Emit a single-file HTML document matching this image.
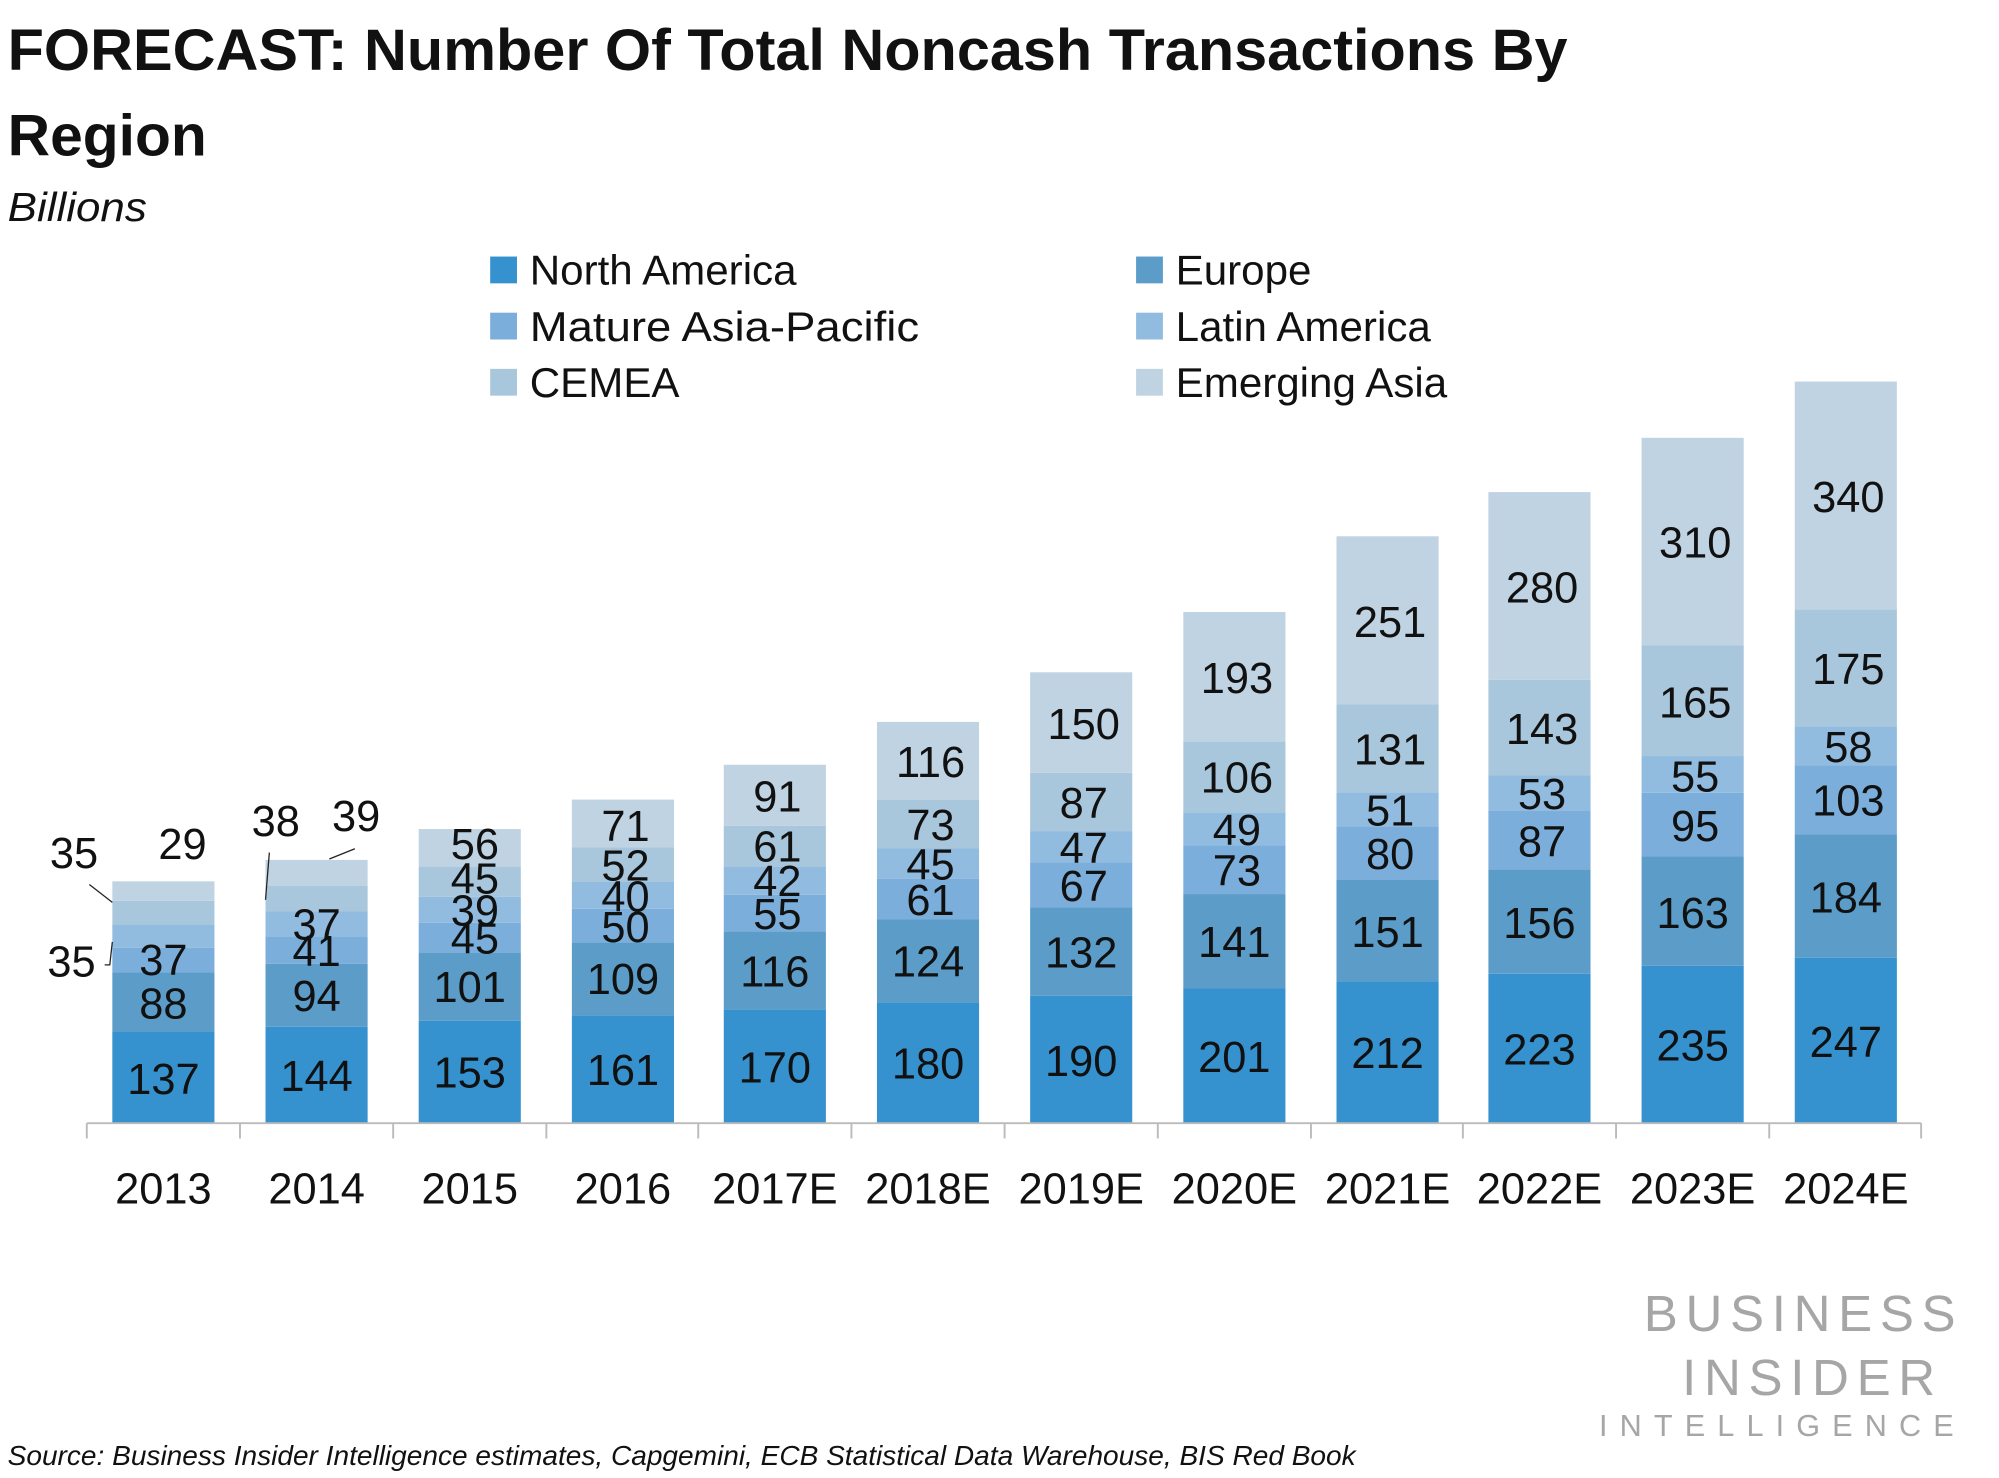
<!DOCTYPE html>
<html><head><meta charset="utf-8"><style>
html,body{margin:0;padding:0;background:#fff;}
svg{display:block;}
text{font-family:"Liberation Sans",sans-serif;}
</style></head><body>
<svg width="1999" height="1478" viewBox="0 0 1566 1158" preserveAspectRatio="none" xmlns="http://www.w3.org/2000/svg">
<text x="6" y="55" font-size="46" font-weight="bold" fill="#111" textLength="1222" lengthAdjust="spacingAndGlyphs">FORECAST: Number Of Total Noncash Transactions By</text>
<text x="6" y="122" font-size="46" font-weight="bold" fill="#111" textLength="156" lengthAdjust="spacingAndGlyphs">Region</text>
<text x="6" y="173" font-size="32" font-style="italic" fill="#111" textLength="109" lengthAdjust="spacingAndGlyphs">Billions</text>
<g font-size="33" fill="#111">
<rect x="384" y="201" width="21" height="21" fill="#3692cf"/><text x="415" y="223">North America</text>
<rect x="384" y="245" width="21" height="21" fill="#7baedb"/><text x="415" y="267" textLength="305" lengthAdjust="spacingAndGlyphs">Mature Asia-Pacific</text>
<rect x="384" y="289" width="21" height="21" fill="#a9c7dc"/><text x="415" y="311">CEMEA</text>
<rect x="890" y="201" width="21" height="21" fill="#5b9dc8"/><text x="921" y="223">Europe</text>
<rect x="890" y="245" width="21" height="21" fill="#91bcdf"/><text x="921" y="267">Latin America</text>
<rect x="890" y="289" width="21" height="21" fill="#c0d3e3"/><text x="921" y="311">Emerging Asia</text>
</g>
<defs>
<style>.a{fill:#3692cf}.b{fill:#5b9dc8}.c{fill:#7baedb}.d{fill:#91bcdf}.e{fill:#a9c7dc}.f{fill:#c0d3e3}</style>
</defs>
<g transform="translate(88,880) scale(1,-0.5249)"><rect class="a" y="0" width="80" height="137"/><rect class="b" y="137" width="80" height="88"/><rect class="c" y="225" width="80" height="37"/><rect class="d" y="262" width="80" height="35"/><rect class="e" y="297" width="80" height="35"/><rect class="f" y="332" width="80" height="29"/></g>
<g transform="translate(208,880) scale(1,-0.5249)"><rect class="a" y="0" width="80" height="144"/><rect class="b" y="144" width="80" height="94"/><rect class="c" y="238" width="80" height="41"/><rect class="d" y="279" width="80" height="37"/><rect class="e" y="316" width="80" height="38"/><rect class="f" y="354" width="80" height="39"/></g>
<g transform="translate(328,880) scale(1,-0.5249)"><rect class="a" y="0" width="80" height="153"/><rect class="b" y="153" width="80" height="101"/><rect class="c" y="254" width="80" height="45"/><rect class="d" y="299" width="80" height="39"/><rect class="e" y="338" width="80" height="45"/><rect class="f" y="383" width="80" height="56"/></g>
<g transform="translate(448,880) scale(1,-0.5249)"><rect class="a" y="0" width="80" height="161"/><rect class="b" y="161" width="80" height="109"/><rect class="c" y="270" width="80" height="50"/><rect class="d" y="320" width="80" height="40"/><rect class="e" y="360" width="80" height="52"/><rect class="f" y="412" width="80" height="71"/></g>
<g transform="translate(567,880) scale(1,-0.5249)"><rect class="a" y="0" width="80" height="170"/><rect class="b" y="170" width="80" height="116"/><rect class="c" y="286" width="80" height="55"/><rect class="d" y="341" width="80" height="42"/><rect class="e" y="383" width="80" height="61"/><rect class="f" y="444" width="80" height="91"/></g>
<g transform="translate(687,880) scale(1,-0.5249)"><rect class="a" y="0" width="80" height="180"/><rect class="b" y="180" width="80" height="124"/><rect class="c" y="304" width="80" height="61"/><rect class="d" y="365" width="80" height="45"/><rect class="e" y="410" width="80" height="73"/><rect class="f" y="483" width="80" height="116"/></g>
<g transform="translate(807,880) scale(1,-0.5249)"><rect class="a" y="0" width="80" height="190"/><rect class="b" y="190" width="80" height="132"/><rect class="c" y="322" width="80" height="67"/><rect class="d" y="389" width="80" height="47"/><rect class="e" y="436" width="80" height="87"/><rect class="f" y="523" width="80" height="150"/></g>
<g transform="translate(927,880) scale(1,-0.5249)"><rect class="a" y="0" width="80" height="201"/><rect class="b" y="201" width="80" height="141"/><rect class="c" y="342" width="80" height="73"/><rect class="d" y="415" width="80" height="49"/><rect class="e" y="464" width="80" height="106"/><rect class="f" y="570" width="80" height="193"/></g>
<g transform="translate(1047,880) scale(1,-0.5249)"><rect class="a" y="0" width="80" height="212"/><rect class="b" y="212" width="80" height="151"/><rect class="c" y="363" width="80" height="80"/><rect class="d" y="443" width="80" height="51"/><rect class="e" y="494" width="80" height="131"/><rect class="f" y="625" width="80" height="251"/></g>
<g transform="translate(1166,880) scale(1,-0.5249)"><rect class="a" y="0" width="80" height="223"/><rect class="b" y="223" width="80" height="156"/><rect class="c" y="379" width="80" height="87"/><rect class="d" y="466" width="80" height="53"/><rect class="e" y="519" width="80" height="143"/><rect class="f" y="662" width="80" height="280"/></g>
<g transform="translate(1286,880) scale(1,-0.5249)"><rect class="a" y="0" width="80" height="235"/><rect class="b" y="235" width="80" height="163"/><rect class="c" y="398" width="80" height="95"/><rect class="d" y="493" width="80" height="55"/><rect class="e" y="548" width="80" height="165"/><rect class="f" y="713" width="80" height="310"/></g>
<g transform="translate(1406,880) scale(1,-0.5249)"><rect class="a" y="0" width="80" height="247"/><rect class="b" y="247" width="80" height="184"/><rect class="c" y="431" width="80" height="103"/><rect class="d" y="534" width="80" height="58"/><rect class="e" y="592" width="80" height="175"/><rect class="f" y="767" width="80" height="340"/></g>
<g stroke="#bbb" stroke-width="1.5">
<line x1="68" y1="880" x2="1505" y2="880"/>
<line x1="68" y1="880" x2="68" y2="892"/><line x1="188" y1="880" x2="188" y2="892"/><line x1="308" y1="880" x2="308" y2="892"/><line x1="428" y1="880" x2="428" y2="892"/><line x1="547" y1="880" x2="547" y2="892"/><line x1="667" y1="880" x2="667" y2="892"/><line x1="787" y1="880" x2="787" y2="892"/><line x1="907" y1="880" x2="907" y2="892"/><line x1="1027" y1="880" x2="1027" y2="892"/><line x1="1146" y1="880" x2="1146" y2="892"/><line x1="1266" y1="880" x2="1266" y2="892"/><line x1="1386" y1="880" x2="1386" y2="892"/><line x1="1505" y1="880" x2="1505" y2="892"/>
</g>
<g font-size="34" fill="#111" text-anchor="middle">
<text x="128" y="943">2013</text><text x="248" y="943">2014</text><text x="368" y="943">2015</text><text x="488" y="943">2016</text><text x="607" y="943">2017E</text><text x="727" y="943">2018E</text><text x="847" y="943">2019E</text><text x="967" y="943">2020E</text><text x="1087" y="943">2021E</text><text x="1206" y="943">2022E</text><text x="1326" y="943">2023E</text><text x="1446" y="943">2024E</text>
</g>
<g stroke="#222" stroke-width="1" fill="none">
<line x1="70" y1="693" x2="88" y2="707"/>
<polyline points="82,756 86,756 88,738"/>
<line x1="211" y1="668" x2="208" y2="705"/>
<line x1="278" y1="665" x2="258" y2="673"/>
</g>
<g font-size="34" fill="#111" text-anchor="middle" dominant-baseline="central">
<text x="128" y="846">137</text><text x="128" y="787">88</text><text x="128" y="753">37</text>
<text x="56" y="754">35</text><text x="58" y="669">35</text><text x="143" y="662">29</text>
<text x="248" y="844">144</text><text x="248" y="781">94</text><text x="248" y="746">41</text><text x="248" y="725">37</text>
<text x="216" y="644">38</text><text x="279" y="640">39</text>
<text x="368" y="841">153</text><text x="368" y="774">101</text><text x="372" y="736">45</text><text x="372" y="714">39</text><text x="372" y="689">45</text><text x="372" y="662">56</text>
<text x="488" y="839">161</text><text x="488" y="768">109</text><text x="490" y="727">50</text><text x="490" y="703">40</text><text x="490" y="679">52</text><text x="490" y="648">71</text>
<text x="607" y="837">170</text><text x="607" y="762">116</text><text x="609" y="717">55</text><text x="609" y="691">42</text><text x="609" y="664">61</text><text x="609" y="625">91</text>
<text x="727" y="834">180</text><text x="727" y="754">124</text><text x="729" y="706">61</text><text x="729" y="678">45</text><text x="729" y="647">73</text><text x="729" y="598">116</text>
<text x="847" y="832">190</text><text x="847" y="747">132</text><text x="849" y="695">67</text><text x="849" y="665">47</text><text x="849" y="630">87</text><text x="849" y="568">150</text>
<text x="967" y="829">201</text><text x="967" y="739">141</text><text x="969" y="683">73</text><text x="969" y="651">49</text><text x="969" y="610">106</text><text x="969" y="532">193</text>
<text x="1087" y="826">212</text><text x="1087" y="731">151</text><text x="1089" y="670">80</text><text x="1089" y="636">51</text><text x="1089" y="588">131</text><text x="1089" y="488">251</text>
<text x="1206" y="823">223</text><text x="1206" y="724">156</text><text x="1208" y="660">87</text><text x="1208" y="623">53</text><text x="1208" y="572">143</text><text x="1208" y="461">280</text>
<text x="1326" y="820">235</text><text x="1326" y="716">163</text><text x="1328" y="648">95</text><text x="1328" y="609">55</text><text x="1328" y="551">165</text><text x="1328" y="426">310</text>
<text x="1446" y="817">247</text><text x="1446" y="704">184</text><text x="1448" y="628">103</text><text x="1448" y="586">58</text><text x="1448" y="525">175</text><text x="1448" y="390">340</text>
</g>
<g fill="#a6a6a6" text-anchor="end">
<text x="1538" y="1043" font-size="40" letter-spacing="6">BUSINESS</text>
<text x="1522" y="1093" font-size="40" letter-spacing="6">INSIDER</text>
<text x="1540" y="1125" font-size="24" letter-spacing="9.5">INTELLIGENCE</text>
</g>
<text x="6" y="1148" font-size="22" font-style="italic" fill="#111" textLength="1056" lengthAdjust="spacingAndGlyphs">Source: Business Insider Intelligence estimates, Capgemini, ECB Statistical Data Warehouse, BIS Red Book</text>
</svg>
</body></html>
